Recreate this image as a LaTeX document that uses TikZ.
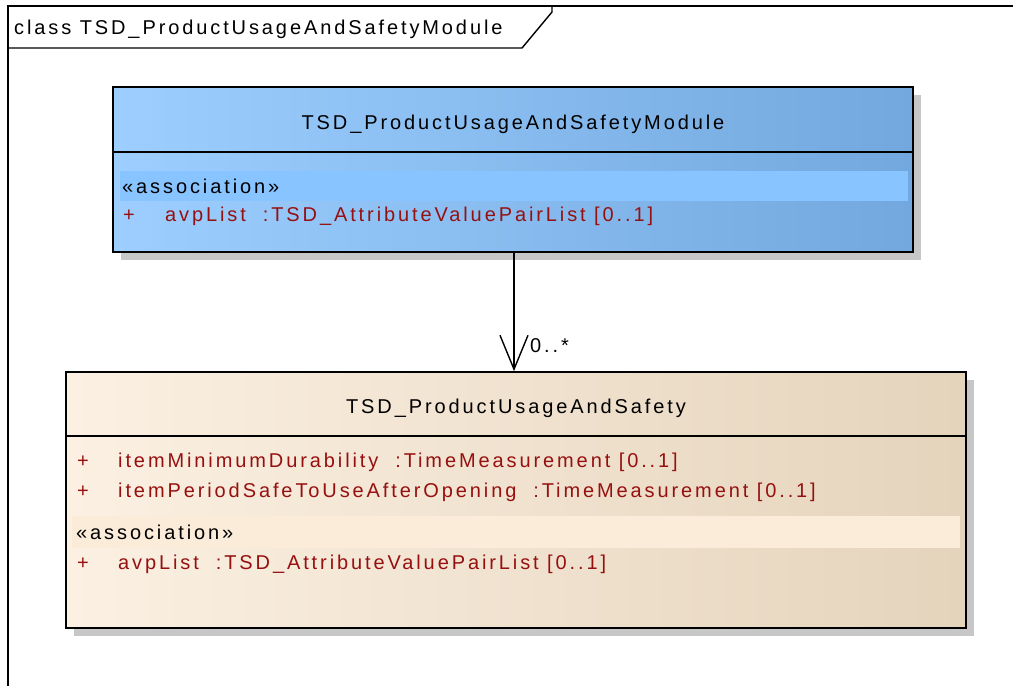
\documentclass[tikz,border=0pt]{standalone}
\usepackage{fontspec}
\setmainfont{Liberation Sans}[LetterSpace=14.5]
\usetikzlibrary{positioning,shadows,arrows.meta}

\definecolor{modleft}{RGB}{157,206,255}
\definecolor{modright}{RGB}{114,168,222}
\definecolor{modband}{RGB}{136,196,255}
\definecolor{safleft}{RGB}{251,240,226}
\definecolor{safright}{RGB}{229,212,188}
\definecolor{safband}{RGB}{250,236,216}
\definecolor{attrred}{RGB}{150,16,16}

\begin{document}
\begin{tikzpicture}[x=1pt,y=-1pt,
    every node/.style={font=\fontsize{20}{24}\selectfont, inner sep=0pt},
    classbox/.style={draw=black, line width=1.8pt, rectangle, minimum width=#1,
      drop shadow={shadow xshift=8pt, shadow yshift=-8pt, fill=black!22, opacity=1}},
    stereo/.style={anchor=west, text=black},
    member/.style={anchor=west, text=attrred},
    sepline/.style={line width=1.6pt}]
  \useasboundingbox[fill=white] (0,0) rectangle (1013,686);

  % frame and its tab
  \draw[line width=1.4pt] (8,686) -- (8,6) -- (1013,6);
  \draw[line width=1.4pt] (8,48) -- (522,48) -- (552,12) -- (552,6);
  \node[anchor=west] (frametitle) at (14,29) {class TSD\_ProductUsageAndSafetyModule};

  % module class
  \node[classbox=800pt, minimum height=165pt, left color=modleft, right color=modright]
    (modbox) at (513,169.5) {};
  \draw[sepline] (modbox.west |- 0,152) -- (modbox.east |- 0,152);
  \node (modname) at (513,124) {TSD\_ProductUsageAndSafetyModule};
  \fill[modband] (120,171) rectangle (908,201);
  \node[stereo] (modstereo) at (122,186) {«association»};
  \node[member] (modplus) at (123,216) {+};
  \node[member] (modavp) at (165,216) {avpList\ \ :TSD\_AttributeValuePairList [0..1]};

  % product usage and safety class
  \node[classbox=900pt, minimum height=256pt, left color=safleft, right color=safright]
    (safbox) at (516,500) {};
  \draw[sepline] (safbox.west |- 0,436) -- (safbox.east |- 0,436);
  \node (safname) at (516,408) {TSD\_ProductUsageAndSafety};
  \node[member] (safplusa) at (77,462) {+};
  \node[member] (safdur) at (118,462) {itemMinimumDurability\ \ :TimeMeasurement [0..1]};
  \node[member] (safplusb) at (77,492) {+};
  \node[member] (safperiod) at (118,492) {itemPeriodSafeToUseAfterOpening\ \ :TimeMeasurement [0..1]};
  \fill[safband] (72,516) rectangle (960,548);
  \node[stereo] (safstereo) at (76,532) {«association»};
  \node[member] (safplusc) at (77,564) {+};
  \node[member] (safavp) at (118,564) {avpList\ \ :TSD\_AttributeValuePairList [0..1]};

  % association
  \coordinate (assocend) at (modbox.south -| 514,0);
  \draw[line width=1.4pt, -{Straight Barb[length=34pt, width=28pt, line width=1.4pt]}]
    (assocend) -- (assocend |- safbox.north);
  \node[anchor=west] (assocmult) at (530,346) {0..*};
\end{tikzpicture}
\end{document}
